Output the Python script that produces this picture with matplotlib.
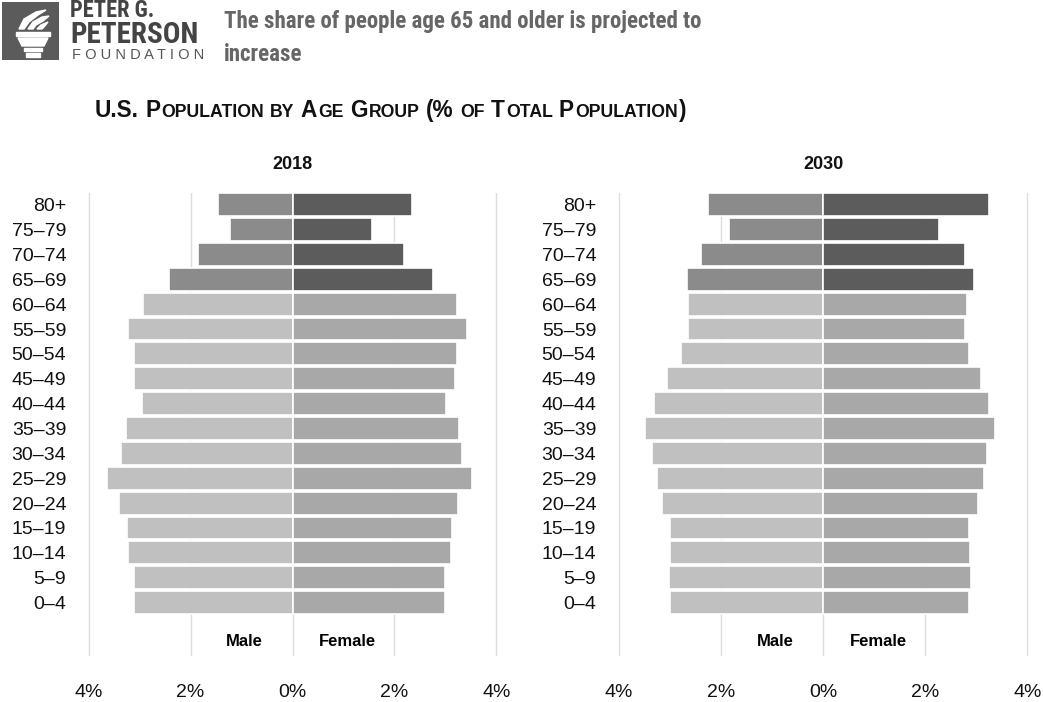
import matplotlib
matplotlib.use("Agg")
import matplotlib.pyplot as plt
from matplotlib import font_manager
from matplotlib.patches import Rectangle, Polygon

W, H = 1043, 702

ages = ["0–4", "5–9", "10–14", "15–19", "20–24", "25–29", "30–34", "35–39",
        "40–44", "45–49", "50–54", "55–59", "60–64", "65–69", "70–74", "75–79", "80+"]

male_2018 = [3.11, 3.11, 3.22, 3.25, 3.40, 3.64, 3.37, 3.26, 2.96, 3.11, 3.11, 3.23, 2.94, 2.43, 1.86, 1.23, 1.47]
female_2018 = [3.00, 3.00, 3.10, 3.13, 3.25, 3.52, 3.32, 3.27, 3.02, 3.18, 3.23, 3.43, 3.23, 2.75, 2.18, 1.55, 2.35]
male_2030 = [2.99, 3.01, 2.99, 2.99, 3.15, 3.25, 3.34, 3.49, 3.31, 3.06, 2.77, 2.65, 2.64, 2.66, 2.39, 1.84, 2.24]
female_2030 = [2.86, 2.90, 2.87, 2.86, 3.03, 3.14, 3.21, 3.36, 3.25, 3.09, 2.86, 2.78, 2.82, 2.95, 2.77, 2.26, 3.25]

xticks = [-4, -2, 0, 2, 4]
xtick_labels = ["4%", "2%", "0%", "2%", "4%"]


def pick(names):
    for n in names:
        try:
            font_manager.findfont(n, fallback_to_default=False)
            return n
        except Exception:
            pass
    return "DejaVu Sans"


narrow = pick(["Liberation Sans Narrow", "Roboto Condensed", "Liberation Sans"])
plain = pick(["Liberation Sans", "DejaVu Sans"])

fig = plt.figure(figsize=(W / 100, H / 100), dpi=100)
fig.patch.set_facecolor("white")
renderer = fig.canvas.get_renderer()


def px(x, y):
    return x / W, 1 - y / H


def fit_text(x, base, s, width, size, **kw):
    t = fig.text(*px(x, base), s, fontsize=size, va="baseline", ha="left", **kw)
    w = t.get_window_extent(renderer).width
    t.set_fontsize(size * width / w)
    return t


# logo
logo = fig.add_axes([2 / W, 1 - 60 / H, 57 / W, 58 / H])
logo.set_xlim(0, 57)
logo.set_ylim(58, 0)
logo.axis("off")
logo.add_patch(Rectangle((0, 0), 57, 58, color="#5b5b5b"))
logo.add_patch(Polygon([(14, 30), (48, 30), (48, 34), (14, 34)], color="white"))
logo.add_patch(Polygon([(16, 36), (46, 36), (42, 44), (20, 44)], color="white"))
logo.add_patch(Rectangle((22, 46), 18, 3, color="white"))
logo.add_patch(Rectangle((24, 51), 14, 4, color="white"))
logo.add_patch(Polygon([(17, 27), (22, 17), (34, 10), (44, 8), (36, 13), (27, 20), (22, 27)], color="white"))
logo.add_patch(Polygon([(26, 27), (31, 20), (40, 15), (47, 14), (41, 19), (34, 23), (31, 27)], color="white"))
logo.add_patch(Polygon([(35, 27), (39, 23), (46, 20), (42, 25), (40, 27)], color="white"))

fit_text(70, 17, "PETER G.", 84, 13, color="#444444", fontweight="bold", family=narrow)
fit_text(70, 43, "PETERSON", 128, 22, color="#444444", fontweight="bold", family=narrow)
fit_text(72, 59, "F O U N D A T I O N", 131, 8, color="#555555", family=plain)

# headline
for base, line in [(28, "The share of people age 65 and older is projected to"), (61, "increase")]:
    fig.text(*px(224, base), line, fontsize=16.5, color="#666666", fontweight="bold",
             family=narrow, va="baseline", ha="left")

# small caps subtitle
pieces = [("U.S.", 1), (None, 0), ("P", 1), ("OPULATION", 0), (None, 0), ("BY", 0), (None, 0),
          ("A", 1), ("GE", 0), (None, 0), ("G", 1), ("ROUP", 0), (None, 0), ("(%", 1), (None, 0),
          ("OF", 0), (None, 0), ("T", 1), ("OTAL", 0), (None, 0), ("P", 1), ("OPULATION", 0), (")", 1)]


def small_caps(x0, base, target, big):
    small = big * 0.78
    objs = []
    for s, b in pieces:
        if s is None:
            objs.append(None)
            continue
        objs.append(fig.text(0, 0, s, fontsize=big if b else small, fontweight="bold",
                             family=plain, color="#111111", va="baseline", ha="left"))

    def layout(scale):
        x = x0
        for (s, b), o in zip(pieces, objs):
            if o is None:
                x += 0.3 * big * scale
                continue
            o.set_fontsize((big if b else small) * scale)
            o.set_position(px(x, base))
            x += o.get_window_extent(renderer).width + 1.2 * scale
        return x - x0

    w = layout(1.0)
    layout(target / w)


small_caps(95, 117, 593, 15)

# pyramids
old_m, old_f, young_m, young_f = "#8b8b8b", "#5c5c5c", "#c0c0c0", "#a8a8a8"
y = list(range(len(ages)))


def pyramid(ax, male, female, year):
    mc = [old_m if i >= 13 else young_m for i in y]
    fc = [old_f if i >= 13 else young_f for i in y]
    ax.barh(y, [-m for m in male], height=0.92, color=mc, edgecolor="white", linewidth=1.2, zorder=2)
    ax.barh(y, female, height=0.92, color=fc, edgecolor="white", linewidth=1.2, zorder=2)
    ax.set_xlim(-4.03, 4.03)
    ax.set_ylim(-2.15, 16.47)
    ax.set_xticks(xticks)
    ax.set_xticklabels(xtick_labels, family=plain, fontsize=14, color="#111111")
    ax.set_yticks(y)
    ax.set_yticklabels(ages, family=plain, fontsize=14, color="#111111")
    ax.tick_params(axis="both", length=0)
    ax.tick_params(axis="y", pad=15)
    ax.tick_params(axis="x", pad=20)
    ax.grid(axis="x", color="#dddddd", linewidth=1)
    ax.grid(axis="y", visible=False)
    ax.set_axisbelow(True)
    for sp in ax.spines.values():
        sp.set_visible(False)
    ax.set_title(year, fontsize=13, fontweight="bold", family=plain, pad=17, color="#111111")
    ax.text(-0.58, -1.55, "Male", ha="right", va="center", fontsize=12, fontweight="bold", family=plain)
    ax.text(0.52, -1.55, "Female", ha="left", va="center", fontsize=12, fontweight="bold", family=plain)


ax1 = fig.add_axes([87 / W, 1 - 656 / H, 411 / W, 463 / H])
ax2 = fig.add_axes([617 / W, 1 - 656 / H, 412 / W, 463 / H])
pyramid(ax1, male_2018, female_2018, "2018")
pyramid(ax2, male_2030, female_2030, "2030")

fig.savefig("out.png", dpi=100)
